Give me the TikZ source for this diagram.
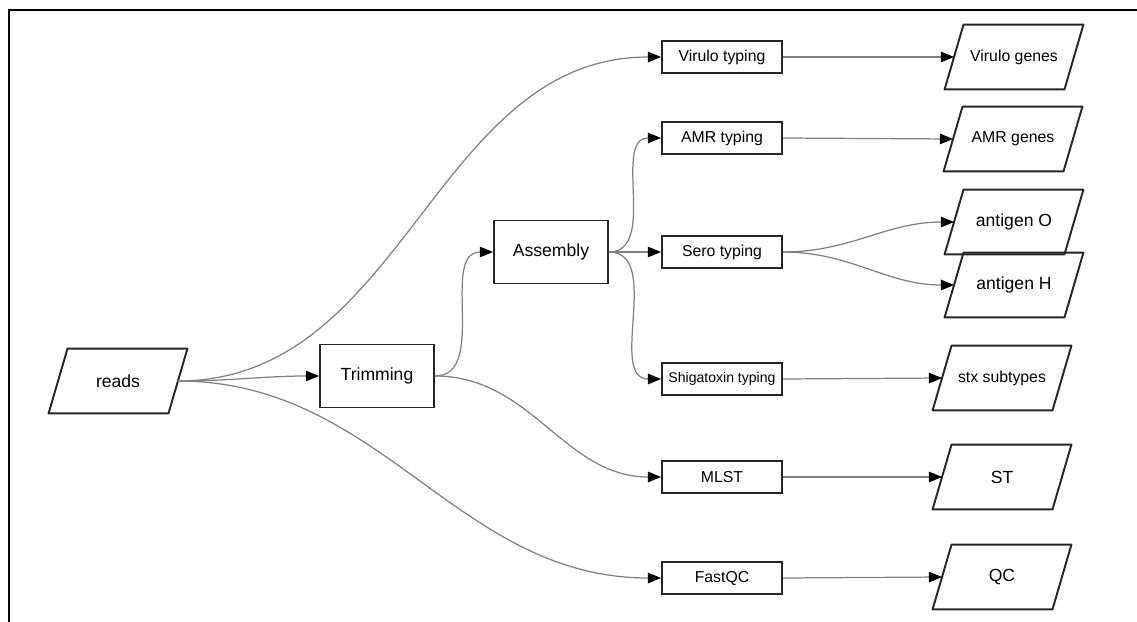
\documentclass[tikz,border=0pt]{standalone}
\usepackage{fontspec}
\setmainfont{Liberation Sans}
\usetikzlibrary{arrows.meta}
\begin{document}
\begin{tikzpicture}[x=0.02cm, y=-0.02cm, >={Triangle[length=7.5pt,width=6pt,color=black]},
		box/.style={draw=black!85, line width=1.1pt, inner sep=1pt, font=\fontsize{9}{11}\selectfont},
		proc/.style={box, rectangle, minimum width=2.28cm, minimum height=1.26cm},
		task/.style={box, rectangle, minimum width=2.4cm, minimum height=0.64cm},
		data/.style={box, draw=none, rectangle, minimum width=2.36cm, minimum height=1.26cm,
				append after command={\pgfextra{\draw[draw=black!85, line width=1.1pt, line join=round]
							([xshift=5.4pt]\tikzlastnode.north west) -- ([xshift=5.4pt]\tikzlastnode.north east)
							-- ([xshift=-5.4pt]\tikzlastnode.south east) -- ([xshift=-5.4pt]\tikzlastnode.south west)
							-- cycle;}}},
		big/.style={font=\fontsize{10}{12}\selectfont},
		flow/.style={draw=black!50, line width=0.7pt}]
	\useasboundingbox (0,0) rectangle (1137,622);
	\draw[line width=1.7pt] (9,622) -- (9,10) -- (1137,10);
	\node[data, big] (reads) at (118,381) {reads};
	\node[proc, big] (trim) at (377,376) {Trimming};
	\node[proc, big] (asm) at (551,252) {Assembly};
	\node[task] (vir) at (722,57) {Virulo typing};
	\node[task] (amr) at (722,138) {AMR typing};
	\node[task] (sero) at (722,252) {Sero typing};
	\node[task, font=\fontsize{8}{10}\selectfont] (shiga) at (722,379) {Shigatoxin typing};
	\node[task] (mlst) at (722,477) {MLST};
	\node[task] (fqc) at (722,578) {FastQC};
	\node[data] (virg) at (1014,57) {Virulo genes};
	\node[data] (amrg) at (1013,139) {AMR genes};
	\node[data, big] (ago) at (1014,222) {antigen O};
	\node[data, big] (agh) at (1014,285) {antigen H};
	\node[data] (stx) at (1002,378) {stx subtypes};
	\node[data, big] (st) at (1002,477) {ST};
	\node[data, big] (qc) at (1002,577) {QC};
	\foreach \s/\t in {reads/trim, reads/vir, reads/fqc, trim/asm, trim/mlst,
			asm/amr, asm/sero, asm/shiga, sero/ago, sero/agh} {
			\draw[flow, ->] (\s.east) to[out=0, in=180] (\t.west);
		}
	\foreach \s/\t in {vir/virg, amr/amrg, shiga/stx, mlst/st, fqc/qc} {
			\draw[flow, ->] (\s.east) -- (\t.west);
		}
\end{tikzpicture}
\end{document}
